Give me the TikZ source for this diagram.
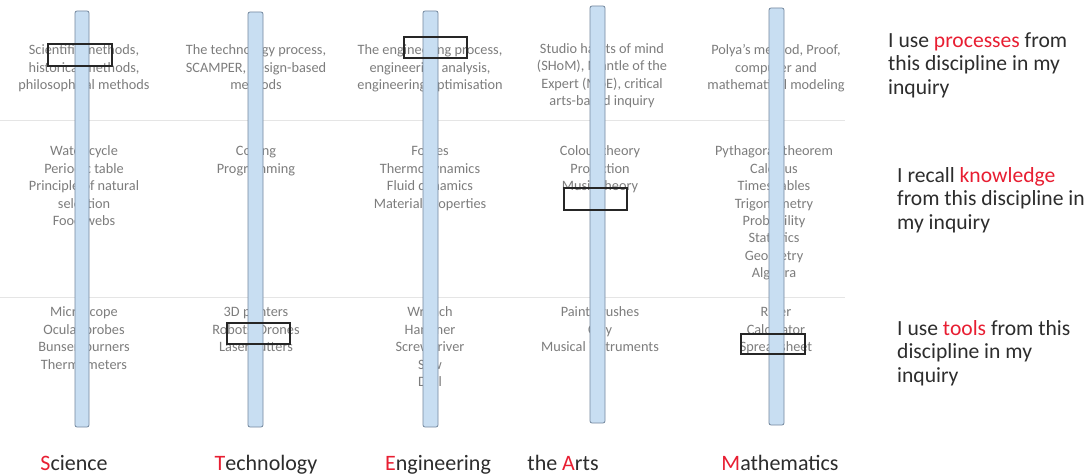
\documentclass[tikz,border=0pt]{standalone}
\usepackage{fontspec}
\setmainfont{Carlito}
\definecolor{barfill}{RGB}{200,222,242}
\definecolor{bardraw}{RGB}{115,135,158}
\definecolor{keyred}{RGB}{232,30,50}
\definecolor{celltext}{RGB}{125,125,125}
\definecolor{sidetext}{RGB}{45,45,45}
\begin{document}
\begin{tikzpicture}[x=1pt,y=-1pt,
  cell/.style={align=center, text=celltext, inner sep=0, anchor=north,
    font=\fontsize{14.3}{17.4}\selectfont},
  bar/.style={draw=bardraw, fill=barfill, line width=0.8pt, rounded corners=2pt},
  markbox/.style={draw=black!85, line width=1.1pt},
  rowline/.style={draw=black!10, line width=0.8pt},
  subject/.style={inner sep=0, anchor=base, text=sidetext, font=\fontsize{22}{26}\selectfont},
  side/.style={inner sep=0, anchor=north west, align=left, text=sidetext,
    font=\fontsize{21.6}{23.5}\selectfont}]
\useasboundingbox (0,0) rectangle (1092,476);
\fill[white] (0,0) rectangle (1092,476);
% row separators
\coordinate (l1a) at (0,120); \coordinate (l1b) at (845,120);
\coordinate (l2a) at (0,297); \coordinate (l2b) at (845,297);
\draw[rowline] (l1a) -- (l1b);
\draw[rowline] (l2a) -- (l2b);
% processes row
\node[cell] (sp) at (84,42.6) {\strut Scientific methods,\\historical methods,\\philosophical methods};
\node[cell] (tp) at (256,42.6) {\strut The technology process,\\SCAMPER, design-based\\methods};
\node[cell] (ep) at (430,42.6) {\strut The engineering process,\\engineering analysis,\\engineering optimisation};
\node[cell] (ap) at (602,41) {\strut Studio habits of mind\\(SHoM), Mantle of the\\Expert (MoE), critical\\arts-based inquiry};
\node[cell] (mp) at (776,42.6) {\strut Polya's method, Proof,\\computer and\\mathematical modeling};
% knowledge row
\node[cell] (sk) at (84,143.6) {\strut Water cycle\\Periodic table\\Principle of natural\\selection\\Food webs};
\node[cell] (tk) at (256,143.6) {\strut Coding\\Programming};
\node[cell] (ek) at (430,143.6) {\strut Forces\\Thermodynamics\\Fluid dynamics\\Material properties};
\node[cell] (ak) at (600,143.6) {\strut Colour theory\\Projection\\Music theory};
\node[cell] (mk) at (774,143.6) {\strut Pythagoras theorem\\Calculus\\Times tables\\Trigonometry\\Probability\\Statistics\\Geometry\\Algebra};
% tools row
\node[cell] (st) at (84,304.6) {\strut Microscope\\Ocular probes\\Bunsen burners\\Thermometers};
\node[cell] (tt) at (256,304.6) {\strut 3D printers\\Robots/Drones\\Laser cutters};
\node[cell] (et) at (430,304.6) {\strut Wrench\\Hammer\\Screwdriver\\Saw\\Drill};
\node[cell] (at) at (600,304.6) {\strut Paint brushes\\Clay\\Musical instruments};
\node[cell] (mt) at (776,304.6) {\strut Ruler\\Calculator\\Spreadsheet};
% bars
\draw[bar] (75,11) rectangle (89,427);
\draw[bar] (248,12) rectangle (263,427);
\draw[bar] (423,11) rectangle (438,427);
\draw[bar] (590,6) rectangle (605,423);
\draw[bar] (769,8) rectangle (784,425);
% highlight boxes
\draw[markbox] (48,44) rectangle (112,66);
\draw[markbox] (404,37) rectangle (467,58);
\draw[markbox] (564,188) rectangle (627,210);
\draw[markbox] (227,323) rectangle (290,344);
\draw[markbox] (741,334) rectangle (805,354);
% subject labels
\node[subject] (sci) at (74,470) {\textcolor{keyred}{S}cience};
\node[subject] (tec) at (266,470) {\textcolor{keyred}{T}echnology};
\node[subject] (eng) at (438,470) {\textcolor{keyred}{E}ngineering};
\node[subject] (art) at (563,470) {the \textcolor{keyred}{A}rts};
\node[subject] (mat) at (780,470) {\textcolor{keyred}{M}athematics};
% side explanations
\node[side] (sp1) at (888,30.5) {\strut I use \textcolor{keyred}{processes} from\\this discipline in my\\inquiry};
\node[side] (sk1) at (897,165.5) {\strut I recall \textcolor{keyred}{knowledge}\\from this discipline in\\my inquiry};
\node[side] (st1) at (897,318.5) {\strut I use \textcolor{keyred}{tools} from this\\discipline in my\\inquiry};
\end{tikzpicture}
\end{document}
